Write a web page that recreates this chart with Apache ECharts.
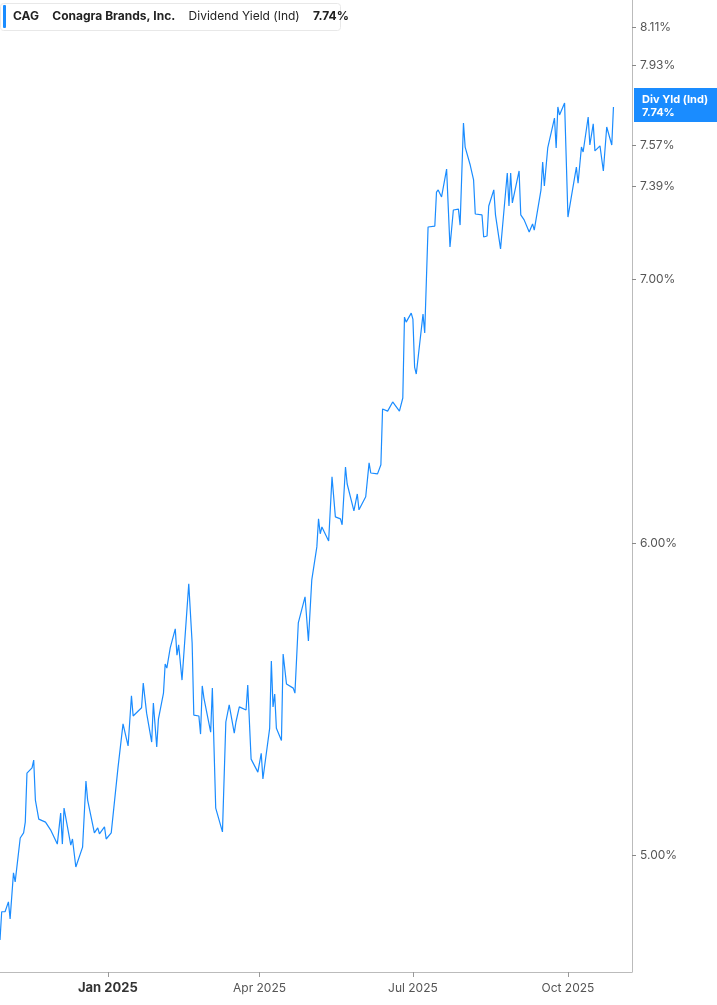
<!DOCTYPE html>
<html>
<head>
<meta charset="utf-8">
<script src="https://cdn.jsdelivr.net/npm/echarts@6/dist/echarts.min.js"></script>
<style>
  html, body { margin: 0; padding: 0; background: #fff; }
  #chart { width: 717px; height: 1005px; }
</style>
</head>
<body>
<div id="chart"></div>
<script>
// CAG dividend yield (Ind), %
const dates = [
  '2024-10-29','2024-10-30','2024-11-01','2024-11-03','2024-11-04','2024-11-06','2024-11-07','2024-11-10',
  '2024-11-12','2024-11-13','2024-11-14','2024-11-17','2024-11-18','2024-11-19','2024-11-21','2024-11-25',
  '2024-11-26','2024-11-28','2024-12-02','2024-12-04','2024-12-05','2024-12-06','2024-12-10','2024-12-11',
  '2024-12-13','2024-12-17','2024-12-19','2024-12-20','2024-12-24','2024-12-26','2024-12-27','2024-12-30',
  '2024-12-31','2025-01-03','2025-01-07','2025-01-10','2025-01-13','2025-01-15','2025-01-16','2025-01-21',
  '2025-01-22','2025-01-24','2025-01-27','2025-01-28','2025-01-30','2025-01-31','2025-02-03','2025-02-04',
  '2025-02-05','2025-02-07','2025-02-10','2025-02-11','2025-02-12','2025-02-14','2025-02-18','2025-02-20',
  '2025-02-21','2025-02-24','2025-02-25','2025-02-26','2025-02-27','2025-03-03','2025-03-04','2025-03-06',
  '2025-03-10','2025-03-12','2025-03-14','2025-03-17','2025-03-18','2025-03-20','2025-03-24','2025-03-25',
  '2025-03-27','2025-03-31','2025-04-02','2025-04-03','2025-04-07','2025-04-08','2025-04-09','2025-04-10',
  '2025-04-11','2025-04-14','2025-04-15','2025-04-17','2025-04-21','2025-04-22','2025-04-24','2025-04-28',
  '2025-04-30','2025-05-02','2025-05-05','2025-05-06','2025-05-07','2025-05-08','2025-05-12','2025-05-14',
  '2025-05-16','2025-05-19','2025-05-20','2025-05-22','2025-05-23','2025-05-27','2025-05-29','2025-05-30',
  '2025-06-03','2025-06-05','2025-06-06','2025-06-10','2025-06-12','2025-06-13','2025-06-16','2025-06-19',
  '2025-06-20','2025-06-23','2025-06-25','2025-06-26','2025-06-27','2025-06-30','2025-07-01','2025-07-02',
  '2025-07-03','2025-07-07','2025-07-08','2025-07-09','2025-07-10','2025-07-14','2025-07-15','2025-07-16',
  '2025-07-18','2025-07-21','2025-07-23','2025-07-25','2025-07-28','2025-07-29','2025-07-31','2025-08-01',
  '2025-08-04','2025-08-06','2025-08-07','2025-08-11','2025-08-12','2025-08-14','2025-08-15','2025-08-18',
  '2025-08-19','2025-08-20','2025-08-22','2025-08-26','2025-08-27','2025-08-28','2025-08-29','2025-09-02',
  '2025-09-03','2025-09-05','2025-09-08','2025-09-10','2025-09-11','2025-09-15','2025-09-16','2025-09-17',
  '2025-09-19','2025-09-23','2025-09-24','2025-09-25','2025-09-26','2025-09-29','2025-10-01','2025-10-03',
  '2025-10-06','2025-10-07','2025-10-09','2025-10-10','2025-10-13','2025-10-14','2025-10-16','2025-10-17',
  '2025-10-20','2025-10-22','2025-10-24','2025-10-27','2025-10-28'
];
const yields = [
  4.758,4.837,4.837,4.865,4.817,4.948,4.922,5.050,
  5.065,5.097,5.245,5.261,5.285,5.163,5.106,5.097,
  5.095,5.074,5.032,5.124,5.032,5.139,5.029,5.047,
  4.965,5.023,5.221,5.163,5.065,5.080,5.062,5.083,
  5.047,5.065,5.261,5.398,5.329,5.487,5.423,5.449,
  5.528,5.432,5.341,5.464,5.326,5.413,5.496,5.590,
  5.577,5.643,5.706,5.619,5.653,5.538,5.858,5.660,
  5.426,5.423,5.366,5.519,5.480,5.372,5.512,5.139,
  5.068,5.404,5.458,5.369,5.404,5.452,5.442,5.522,
  5.288,5.248,5.306,5.227,5.384,5.600,5.452,5.493,
  5.384,5.346,5.623,5.525,5.512,5.496,5.726,5.814,
  5.666,5.872,5.986,6.085,6.032,6.056,6.007,6.236,
  6.092,6.085,6.064,6.272,6.210,6.113,6.174,6.117,
  6.164,6.287,6.250,6.247,6.280,6.488,6.480,6.515,
  6.511,6.480,6.530,6.846,6.826,6.862,6.838,6.649,
  6.622,6.858,6.783,6.996,7.216,7.220,7.365,7.374,
  7.344,7.464,7.132,7.288,7.292,7.224,7.668,7.561,
  7.482,7.417,7.271,7.267,7.174,7.178,7.305,7.374,
  7.267,7.263,7.124,7.447,7.305,7.447,7.318,7.456,
  7.267,7.246,7.195,7.229,7.203,7.374,7.495,7.391,
  7.557,7.690,7.557,7.740,7.704,7.758,7.258,7.344,
  7.473,7.403,7.561,7.539,7.695,7.570,7.664,7.544,
  7.566,7.456,7.650,7.570,7.740
];
const yTicks = [5.00, 6.00, 7.00, 7.39, 7.57, 7.93, 8.11];
const xTicks = ['2025-01-01', '2025-04-01', '2025-07-01', '2025-10-01'];
const xTickLabels = ['Jan 2025', 'Apr 2025', 'Jul 2025', 'Oct 2025'];
const lastYield = 7.74;

const chart = echarts.init(document.getElementById('chart'));
const FONT = 'Inter, "Noto Sans", sans-serif';
const BLUE = '#1a8cff';
const toTime = d => +new Date(d + 'T00:00:00Z');
const xTickTimes = xTicks.map(toTime);

const option = {
  animation: false,
  textStyle: { fontFamily: FONT },
  grid: { left: 0, right: 85, top: 0, bottom: 33 },
  xAxis: {
    type: 'value',
    min: toTime('2024-10-29'),
    max: toTime('2025-11-08'),
    axisLine: { lineStyle: { color: '#bbb' } },
    axisTick: { show: true, customValues: xTickTimes, length: 5, lineStyle: { color: '#999' } },
    splitLine: { show: false },
    axisLabel: {
      customValues: xTickTimes,
      margin: 10,
      fontSize: 12,
      color: '#555',
      formatter: function (v) {
        const i = xTickTimes.indexOf(v);
        const t = i >= 0 ? xTickLabels[i] : '';
        return i === 0 ? '{b|' + t + '}' : t;
      },
      rich: { b: { fontWeight: 'bold', fontSize: 13, color: '#333', fontFamily: FONT } }
    }
  },
  yAxis: {
    type: 'value',
    position: 'right',
    min: 1.5411,
    max: 2.1089,
    axisLine: { show: true, lineStyle: { color: '#bbb' } },
    axisTick: { show: true, customValues: yTicks.map(Math.log), length: 4, lineStyle: { color: '#888' } },
    splitLine: { show: false },
    axisLabel: {
      customValues: yTicks.map(Math.log),
      margin: 8,
      fontSize: 12,
      color: '#555',
      formatter: v => Math.exp(v).toFixed(2) + '%'
    }
  },
  series: [{
    type: 'line',
    data: dates.map((d, i) => [toTime(d), Math.log(yields[i])]),
    showSymbol: false,
    lineStyle: { color: BLUE, width: 1.2 },
    z: 3
  }],
  graphic: [
    {
      type: 'rect', left: 0, top: 3,
      shape: { width: 340, height: 27, r: 3 },
      style: { fill: '#fff', stroke: '#e8e8e8', lineWidth: 1 }
    },
    {
      type: 'rect', left: 3, top: 5,
      shape: { width: 3, height: 23, r: 1 },
      style: { fill: BLUE }
    },
    {
      type: 'text', left: 13, top: 10,
      style: {
        text: '{b|CAG}    {b|Conagra Brands, Inc.}    {n|Dividend Yield (Ind)}    {b|' + lastYield.toFixed(2) + '%}',
        rich: {
          b: { fontWeight: 'bold', fontSize: 12, fill: '#222', fontFamily: FONT },
          n: { fontSize: 12, fill: '#222', fontFamily: FONT }
        }
      }
    },
    {
      type: 'rect', left: 634, top: 88,
      shape: { width: 83, height: 34 },
      style: { fill: BLUE }
    },
    {
      type: 'text', left: 642, top: 93,
      style: {
        text: 'Div Yld (Ind)\n' + lastYield.toFixed(2) + '%',
        fill: '#fff', fontWeight: 'bold', fontSize: 11, lineHeight: 13,
        align: 'center', fontFamily: FONT
      }
    }
  ]
};

chart.setOption(option);
</script>
</body>
</html>
